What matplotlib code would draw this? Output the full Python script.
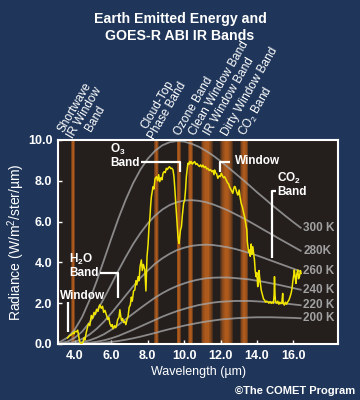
import numpy as np
import matplotlib
matplotlib.use('Agg')
import matplotlib.pyplot as plt

# blackbody reference curves (W/m2/ster/um), read at these wavelengths
bb_wl = [2.8, 3.2, 3.6, 4.0, 4.4, 4.8, 5.2, 5.6, 6.0, 6.4, 6.8, 7.2, 7.6, 8.0,
         8.4, 8.8, 9.2, 9.6, 10.0, 10.4, 10.8, 11.2, 11.6, 12.0, 12.4, 12.8,
         13.2, 13.6, 14.0, 14.4, 14.8, 15.2, 15.6, 16.0, 16.4]
bb_300 = [0.03, 0.11, 0.32, 0.72, 1.33, 2.14, 3.09, 4.13, 5.17, 6.18, 7.09, 7.89,
          8.55, 9.08, 9.47, 9.74, 9.89, 9.95, 9.92, 9.82, 9.67, 9.47, 9.23, 8.96,
          8.67, 8.37, 8.07, 7.76, 7.44, 7.14, 6.83, 6.54, 6.25, 5.97, 5.70]
bb_280 = [0.01, 0.04, 0.12, 0.31, 0.61, 1.05, 1.60, 2.24, 2.92, 3.62, 4.28, 4.90,
          5.44, 5.91, 6.29, 6.59, 6.81, 6.95, 7.03, 7.05, 7.02, 6.95, 6.84, 6.70,
          6.55, 6.37, 6.19, 5.99, 5.79, 5.58, 5.38, 5.17, 4.97, 4.77, 4.57]
bb_260 = [0.00, 0.01, 0.04, 0.11, 0.25, 0.46, 0.75, 1.10, 1.51, 1.95, 2.39, 2.83,
          3.24, 3.60, 3.93, 4.20, 4.42, 4.60, 4.72, 4.81, 4.85, 4.87, 4.85, 4.80,
          4.74, 4.66, 4.56, 4.45, 4.34, 4.21, 4.08, 3.95, 3.82, 3.69, 3.56]
bb_240 = [0.00, 0.00, 0.01, 0.04, 0.09, 0.18, 0.31, 0.48, 0.70, 0.95, 1.22, 1.49,
          1.76, 2.02, 2.27, 2.49, 2.68, 2.84, 2.97, 3.08, 3.16, 3.22, 3.25, 3.26,
          3.26, 3.23, 3.20, 3.16, 3.10, 3.04, 2.97, 2.90, 2.82, 2.74, 2.66]
bb_220 = [0.00, 0.00, 0.00, 0.01, 0.03, 0.06, 0.11, 0.18, 0.28, 0.40, 0.55, 0.70,
          0.86, 1.02, 1.18, 1.34, 1.48, 1.61, 1.72, 1.82, 1.91, 1.97, 2.03, 2.07,
          2.09, 2.11, 2.11, 2.11, 2.09, 2.07, 2.05, 2.01, 1.98, 1.94, 1.90]
bb_200 = [0.00, 0.00, 0.00, 0.00, 0.01, 0.01, 0.03, 0.06, 0.10, 0.15, 0.21, 0.28,
          0.36, 0.45, 0.54, 0.64, 0.73, 0.81, 0.90, 0.97, 1.04, 1.10, 1.15, 1.20,
          1.23, 1.26, 1.28, 1.30, 1.31, 1.31, 1.31, 1.30, 1.29, 1.28, 1.26]
bb_curves = [bb_300, bb_280, bb_260, bb_240, bb_220, bb_200]
bb_labels = ['300 K', '280K', '260 K', '240 K', '220 K', '200 K']

# observed earth spectrum (yellow)
obs_wl = [3.60, 3.70, 3.80, 3.90, 3.95, 4.00, 4.10, 4.15, 4.20, 4.25, 4.30, 4.37,
          4.45, 4.50, 4.55, 4.62, 4.70, 4.75, 4.82, 4.90, 4.97, 5.05, 5.12, 5.19,
          5.27, 5.33, 5.37, 5.45, 5.52, 5.58, 5.65, 5.74, 5.80, 5.86, 5.92, 6.00,
          6.05, 6.10, 6.18, 6.24, 6.28, 6.35, 6.42, 6.47, 6.52, 6.56, 6.62, 6.68,
          6.74, 6.80, 6.86, 6.92, 6.98, 7.04, 7.10, 7.15, 7.22, 7.29, 7.35, 7.40,
          7.47, 7.52, 7.58, 7.65, 7.70, 7.76, 7.84, 7.88, 7.90, 7.93, 7.96, 8.02,
          8.07, 8.12, 8.16, 8.20, 8.25, 8.29, 8.34, 8.40, 8.48, 8.55, 8.60, 8.66,
          8.72, 8.78, 8.84, 8.90, 8.96, 9.02, 9.08, 9.14, 9.20, 9.26, 9.32, 9.39,
          9.44, 9.48, 9.53, 9.57, 9.62, 9.66, 9.70, 9.72, 9.76, 9.80, 9.85, 9.90,
          9.97, 10.03, 10.08, 10.12, 10.17, 10.21, 10.26, 10.30, 10.35, 10.39,
          10.45, 10.52, 10.58, 10.64, 10.70, 10.76, 10.84, 10.90, 10.97, 11.03,
          11.10, 11.17, 11.24, 11.30, 11.38, 11.45, 11.52, 11.58, 11.64, 11.67,
          11.72, 11.78, 11.85, 11.92, 11.98, 12.04, 12.10, 12.16, 12.22, 12.31,
          12.38, 12.44, 12.49, 12.55, 12.61, 12.67, 12.72, 12.76, 12.80, 12.85,
          12.90, 12.95, 13.02, 13.07, 13.13, 13.20, 13.26, 13.32, 13.38, 13.44,
          13.47, 13.50, 13.54, 13.59, 13.63, 13.68, 13.72, 13.77, 13.82, 13.86,
          13.90, 13.95, 13.99, 14.04, 14.08, 14.11, 14.14, 14.18, 14.23, 14.30,
          14.36, 14.41, 14.47, 14.53, 14.59, 14.65, 14.72, 14.78, 14.84, 14.90,
          14.94, 14.96, 14.99, 15.02, 15.08, 15.14, 15.20, 15.25, 15.30, 15.36,
          15.41, 15.44, 15.50, 15.56, 15.62, 15.69, 15.75, 15.81, 15.87, 15.92,
          15.97, 16.02, 16.05, 16.09, 16.14, 16.18, 16.24, 16.28, 16.33, 16.38,
          16.42]
obs_rad = [0.30, 0.40, 0.45, 0.55, 0.50, 0.62, 0.60, 0.68, 0.45, 0.15, 0.05, 0.02,
           0.10, 0.30, 0.20, 0.55, 0.85, 1.00, 0.90, 1.40, 1.25, 1.55, 1.45, 1.70,
           1.60, 1.85, 1.92, 1.75, 1.85, 1.55, 1.65, 1.40, 1.20, 1.30, 1.00, 0.85,
           0.95, 0.75, 0.90, 0.80, 0.88, 1.20, 1.30, 1.68, 1.35, 1.15, 1.25, 1.05,
           1.10, 0.95, 1.20, 1.35, 1.80, 1.90, 2.30, 2.10, 2.60, 2.65, 3.10, 2.90,
           3.30, 3.10, 3.80, 4.12, 3.60, 3.90, 3.63, 3.00, 2.60, 3.50, 4.28, 4.90,
           5.75, 6.20, 6.80, 7.22, 7.50, 7.71, 7.60, 8.10, 8.20, 8.00, 8.30, 7.96,
           8.15, 8.05, 8.37, 8.45, 8.40, 8.61, 8.55, 8.65, 8.69, 8.60, 8.62, 8.53,
           8.20, 7.71, 7.00, 6.40, 5.80, 5.26, 5.00, 4.93, 5.30, 5.60, 5.75, 6.30,
           6.90, 7.06, 7.60, 8.20, 8.60, 8.86, 8.80, 8.95, 8.85, 8.94,
           8.82, 8.90, 8.94, 8.80, 8.85, 8.77, 8.70, 8.78, 8.68, 8.77,
           8.65, 8.70, 8.58, 8.61, 8.50, 8.55, 8.45, 8.50, 8.30, 8.53,
           8.40, 8.35, 8.12, 8.25, 8.20, 8.37, 8.25, 8.15, 8.20, 8.04,
           7.90, 7.85, 7.71, 7.60, 7.50, 7.39, 7.60, 7.72, 7.71, 7.55,
           7.40, 7.30, 7.55, 7.20, 6.90, 6.70, 6.45, 6.24, 5.90, 5.59,
           5.00, 4.77, 4.50, 4.61, 4.30, 4.90, 4.40, 4.77, 4.40, 4.12,
           3.60, 3.30, 3.50, 2.81, 3.00, 3.60, 3.30, 3.00, 2.65, 2.40,
           2.20, 2.16, 2.05, 2.10, 2.07, 2.00, 2.08, 1.99, 2.05, 2.00,
           2.40, 3.30, 2.40, 2.07, 2.00, 2.10, 1.95, 2.05, 1.98, 2.00,
           2.48, 2.00, 1.91, 2.05, 1.95, 2.07, 2.15, 2.30, 2.48, 2.70,
           3.10, 3.40, 3.63, 3.30, 2.97, 3.40, 3.63, 3.20, 3.30, 3.60,
           3.46]

# ABI IR bands shown (centre, width in um)
band_centre = [3.9, 8.48, 9.7, 10.35, 11.25, 12.33, 13.3]
band_width = [0.22, 0.26, 0.24, 0.3, 0.7, 0.7, 0.45]

BG = '#1f365a'
PLOT_BG = '#241e1d'
ORANGE = '#d06a1c'

plt.rcParams['font.family'] = ['Liberation Sans', 'DejaVu Sans']
plt.rcParams['font.weight'] = 'bold'
plt.rcParams['mathtext.default'] = 'regular'

fig = plt.figure(figsize=(3.6, 4.0), dpi=100, facecolor=BG)
ax = fig.add_axes([0.161, 0.14, 0.778, 0.51], facecolor=PLOT_BG)

# band stripes with soft glow
for c, w in zip(band_centre, band_width):
    for f in np.linspace(1.0, 0.25, 6):
        ax.axvspan(c - f * w / 2, c + f * w / 2, color=ORANGE, alpha=0.24, lw=0,
                   zorder=1)

for vals, lab in zip(bb_curves, bb_labels):
    ax.plot(bb_wl, vals, color='#a5a5a5', lw=1.3, alpha=0.8, zorder=2)
    ax.text(bb_wl[-1] + 0.15, vals[-1], lab, color='#a0a0a0', fontsize=8.5,
            fontweight='bold', va='center', ha='left', zorder=4)

ax.plot(obs_wl, obs_rad, color='#f2e600', lw=1.1, zorder=3)

# annotation brackets
wht = dict(color='white', lw=1.6, zorder=5, solid_capstyle='butt')
ax.text(5.92, 9.26, 'O$_3$\nBand', color='white', fontsize=8.5, va='center',
        ha='left', linespacing=1.0)
ax.plot([7.62, 9.75, 9.75], [8.9, 8.9, 8.45], **wht)
ax.text(12.77, 8.97, 'Window', color='white', fontsize=8.5, va='center', ha='left')
ax.plot([11.95, 11.95, 12.49], [8.45, 8.9, 8.9], **wht)
ax.text(15.12, 7.82, 'CO$_2$\nBand', color='white', fontsize=8.5, va='center',
        ha='left', linespacing=1.0)
ax.plot([15.05, 14.81, 14.81], [7.5, 7.5, 4.2], **wht)
ax.text(3.67, 3.85, 'H$_2$O\nBand', color='white', fontsize=8.5, va='center',
        ha='left', linespacing=1.0)
ax.plot([5.37, 6.37, 6.37], [3.46, 3.46, 2.24], **wht)
ax.text(3.18, 2.35, 'Window', color='white', fontsize=8.5, va='center', ha='left')
ax.plot([3.63, 3.63], [2.07, 0.6], **wht)

# band names above the plot
ax.text(4.55, 11.32, 'Shortwave\nIR Window\nBand', rotation=60,
        rotation_mode='anchor', ha='center', va='center', color='white',
        fontsize=8.5, fontweight='normal', multialignment='center',
        linespacing=1.0, clip_on=False)
ax.text(8.82, 11.57, 'Cloud-Top\nPhase Band', rotation=60, rotation_mode='anchor',
        ha='center', va='center', color='white', fontsize=8.5, fontweight='normal',
        multialignment='center', linespacing=1.0, clip_on=False)
for x, s in [(9.63, 'Ozone Band'), (10.45, 'Clean Window Band'),
             (11.3, 'IR Window Band'), (12.22, 'Dirty Window Band'),
             (13.19, 'CO$_2$ Band')]:
    ax.text(x, 10.25, s, rotation=60, rotation_mode='anchor', ha='left',
            va='center', color='white', fontsize=8.5, fontweight='normal',
            clip_on=False)

ax.set_xlim(3.07, 18.45)
ax.set_ylim(0, 10)
ax.set_xticks([4, 6, 8, 10, 12, 14, 16])
ax.set_xticklabels(['4.0', '6.0', '8.0', '10.0', '12.0', '14.0', '16.0'])
ax.set_yticks([0, 2, 4, 6, 8, 10])
ax.set_yticklabels(['0.0', '2.0', '4.0', '6.0', '8.0', '10.0'])
ax.tick_params(direction='in', length=3, width=1, colors='white', labelsize=9,
               pad=4)
for s in ax.spines.values():
    s.set_color('white')
    s.set_linewidth(1.5)
ax.set_xlabel('Wavelength (µm)', color='white', fontsize=9, labelpad=3)
ax.set_ylabel('Radiance (W/m$^2$/ster/µm)', color='white', fontsize=10)
ax.yaxis.set_label_coords(-0.11, 0.5)

fig.text(0.5, 0.931, 'Earth Emitted Energy and\nGOES-R ABI IR Bands',
         ha='center', va='center', color='white', fontsize=10.2, linespacing=1.2)
fig.text(0.986, 0.022, '©The COMET Program', ha='right', va='center',
         color='white', fontsize=8)

fig.savefig('out.png', dpi=100, facecolor=BG)
